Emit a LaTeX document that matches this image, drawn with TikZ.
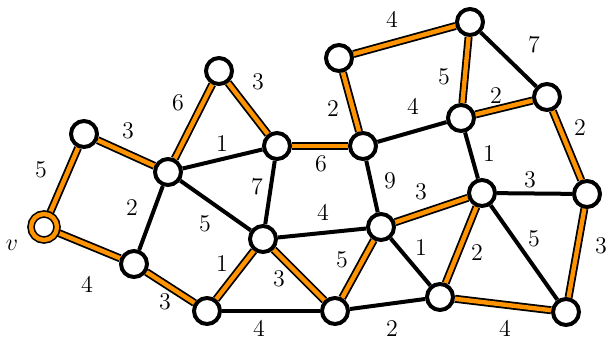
\documentclass[tikz,border=0pt]{standalone}
\usepackage{amsmath}
\usepackage{tikz}
\usetikzlibrary{backgrounds}
\definecolor{treeorange}{HTML}{FF9300}
\tikzset{
  vertex/.style={circle, draw=black, fill=white, line width=2pt, minimum size=13pt, inner sep=0pt},
  root/.style={circle, draw=black, line width=0.8pt, double=treeorange, double distance=2.2pt, fill=white, minimum size=13pt, inner sep=0pt},
  edge/.style={line width=2pt, black},
  tree/.style={line width=0.9pt, draw=black, double=treeorange, double distance=2.2pt},
  wt/.style={font=\large, inner sep=0pt}
}

\begin{document}
\begin{tikzpicture}[x=0.5pt, y=-0.5pt]
        \useasboundingbox (0,0) rectangle (610,342);
        % vertices
        \node[root]   (v) at (44,227) {};
        \node[vertex] (a) at (84,134) {};
        \node[vertex] (b) at (134,264) {};
        \node[vertex] (c) at (168,172) {};
        \node[vertex] (d) at (219,71) {};
        \node[vertex] (e) at (277,146) {};
        \node[vertex] (f) at (263,239) {};
        \node[vertex] (g) at (207,311) {};
        \node[vertex] (h) at (335,311) {};
        \node[vertex] (i) at (363,146) {};
        \node[vertex] (j) at (339,58) {};
        \node[vertex] (k) at (470,22) {};
        \node[vertex] (l) at (461,118) {};
        \node[vertex] (m) at (547,97) {};
        \node[vertex] (n) at (381,227) {};
        \node[vertex] (o) at (482,193) {};
        \node[vertex] (p) at (587,194) {};
        \node[vertex] (q) at (440,297) {};
        \node[vertex] (r) at (566,312) {};
        \node[wt] (vname) at (12,245) {$v$};
        \begin{scope}[on background layer]
        % edges outside the tree
        \draw[edge] (c) -- (b);
        \draw[edge] (c) -- (e);
        \draw[edge] (c) -- (f);
        \draw[edge] (e) -- (f);
        \draw[edge] (f) -- (n);
        \draw[edge] (i) -- (n);
        \draw[edge] (i) -- (l);
        \draw[edge] (k) -- (m);
        \draw[edge] (l) -- (o);
        \draw[edge] (o) -- (p);
        \draw[edge] (o) -- (r);
        \draw[edge] (n) -- (q);
        \draw[edge] (h) -- (q);
        \draw[edge] (g) -- (h);
        % tree edges
        \draw[tree] (v) -- (a);
        \draw[tree] (a) -- (c);
        \draw[tree] (c) -- (d);
        \draw[tree] (d) -- (e);
        \draw[tree] (e) -- (i);
        \draw[tree] (i) -- (j);
        \draw[tree] (j) -- (k);
        \draw[tree] (k) -- (l);
        \draw[tree] (l) -- (m);
        \draw[tree] (m) -- (p);
        \draw[tree] (p) -- (r);
        \draw[tree] (r) -- (q);
        \draw[tree] (q) -- (o);
        \draw[tree] (o) -- (n);
        \draw[tree] (n) -- (h);
        \draw[tree] (h) -- (f);
        \draw[tree] (f) -- (g);
        \draw[tree] (g) -- (b);
        \draw[tree] (b) -- (v);
        \end{scope}
        % weights
        \node[wt] (w1) at (41,170) {$5$};
        \node[wt] (w2) at (128,131) {$3$};
        \node[wt] (w3) at (178,103) {$6$};
        \node[wt] (w4) at (258,82) {$3$};
        \node[wt] (w5) at (222,144) {$1$};
        \node[wt] (w6) at (132,208) {$2$};
        \node[wt] (w7) at (205,224) {$5$};
        \node[wt] (w8) at (257,187) {$7$};
        \node[wt] (w9) at (321,164) {$6$};
        \node[wt] (w10) at (333,109) {$2$};
        \node[wt] (w11) at (392,20) {$4$};
        \node[wt] (w12) at (444,77) {$5$};
        \node[wt] (w13) at (534,45) {$7$};
        \node[wt] (w14) at (413,107) {$4$};
        \node[wt] (w15) at (496,96) {$2$};
        \node[wt] (w16) at (580,128) {$2$};
        \node[wt] (w17) at (390,181) {$9$};
        \node[wt] (w18) at (489,154) {$1$};
        \node[wt] (w19) at (421,192) {$3$};
        \node[wt] (w20) at (530,180) {$3$};
        \node[wt] (w21) at (323,213) {$4$};
        \node[wt] (w22) at (601,246) {$3$};
        \node[wt] (w23) at (534,239) {$5$};
        \node[wt] (w24) at (477,253) {$2$};
        \node[wt] (w25) at (421,248) {$1$};
        \node[wt] (w26) at (342,260) {$5$};
        \node[wt] (w27) at (279,279) {$3$};
        \node[wt] (w28) at (222,264) {$1$};
        \node[wt] (w29) at (165,302) {$3$};
        \node[wt] (w30) at (87,285) {$4$};
        \node[wt] (w31) at (259,329) {$4$};
        \node[wt] (w32) at (392,329) {$2$};
        \node[wt] (w33) at (505,329) {$4$};
\end{tikzpicture}
\end{document}
